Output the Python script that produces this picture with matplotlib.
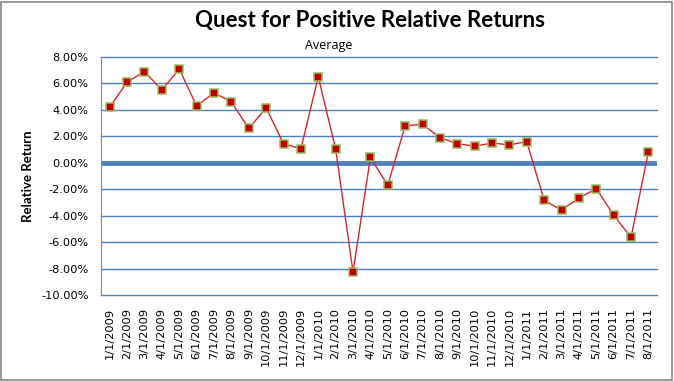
import matplotlib
matplotlib.use("Agg")
import matplotlib.pyplot as plt
from matplotlib.ticker import FuncFormatter
from matplotlib.patches import Rectangle

# dates on the category axis
dates = ['1/1/2009', '2/1/2009', '3/1/2009', '4/1/2009', '5/1/2009', '6/1/2009',
         '7/1/2009', '8/1/2009', '9/1/2009', '10/1/2009', '11/1/2009', '12/1/2009',
         '1/1/2010', '2/1/2010', '3/1/2010', '4/1/2010', '5/1/2010', '6/1/2010',
         '7/1/2010', '8/1/2010', '9/1/2010', '10/1/2010', '11/1/2010', '12/1/2010',
         '1/1/2011', '2/1/2011', '3/1/2011', '4/1/2011', '5/1/2011', '6/1/2011',
         '7/1/2011', '8/1/2011']
# average relative return, percent
avg_return = [4.2, 6.1, 6.9, 5.5, 7.1, 4.3, 5.3, 4.6, 2.6, 4.15, 1.45, 1.05,
              6.5, 1.05, -8.27, 0.4, -1.7, 2.8, 2.9, 1.9, 1.45, 1.25, 1.5, 1.35,
              1.6, -2.85, -3.57, -2.67, -1.95, -3.97, -5.63, 0.85]
y_ticks = [8, 6, 4, 2, 0, -2, -4, -6, -8, -10]

plt.rcParams['font.family'] = 'DejaVu Sans'
grid_blue = '#4F81BD'

fig = plt.figure(figsize=(6.74, 3.81), dpi=100)
ax = fig.add_axes([0.1499, 0.2257, 0.8251, 0.6247])

x = list(range(len(dates)))
for t in y_ticks:
    if t != 0:
        ax.axhline(t, color=grid_blue, lw=1.0, zorder=1, clip_on=False)
ax.axhline(0, color=grid_blue, lw=3.5, zorder=2)

ax.plot(x, avg_return, color='#D7262E', lw=1.0, marker='s', markersize=6,
        markerfacecolor='#C00000', markeredgecolor='#9BBB59', markeredgewidth=1.1,
        zorder=3)

ax.set_xlim(-0.5, len(dates) - 0.5)
ax.set_ylim(-10, 8)
ax.set_yticks(y_ticks)
ax.yaxis.set_major_formatter(FuncFormatter(lambda v, p: '%.2f%%' % v))
ax.set_xticks(x)
ax.set_xticklabels(dates, rotation=90)
ax.tick_params(axis='both', length=0, labelsize=8.2)
ax.tick_params(axis='x', pad=9)
ax.tick_params(axis='y', pad=9)
for lbl in ax.get_xticklabels() + ax.get_yticklabels():
    lbl.set_family('DejaVu Sans')

for side in ['top', 'right', 'bottom']:
    ax.spines[side].set_visible(False)
ax.spines['left'].set_color('#868686')

ax.set_ylabel('Relative Return', fontsize=9.5, fontweight='bold', family='Lato')
ax.yaxis.set_label_coords(-0.12, 0.5)

fig.text(0.549, 0.945, 'Quest for Positive Relative Returns', ha='center', va='center',
         fontsize=16, fontweight='bold', family='Lato')
fig.text(0.488, 0.88, 'Average', ha='center', va='center', fontsize=9, family='Open Sans')

fig.patches.append(Rectangle((0.002, 0.003), 0.995, 0.993, transform=fig.transFigure,
                             fill=False, edgecolor='#868686', lw=1.2))

fig.savefig('out.png', dpi=100)
